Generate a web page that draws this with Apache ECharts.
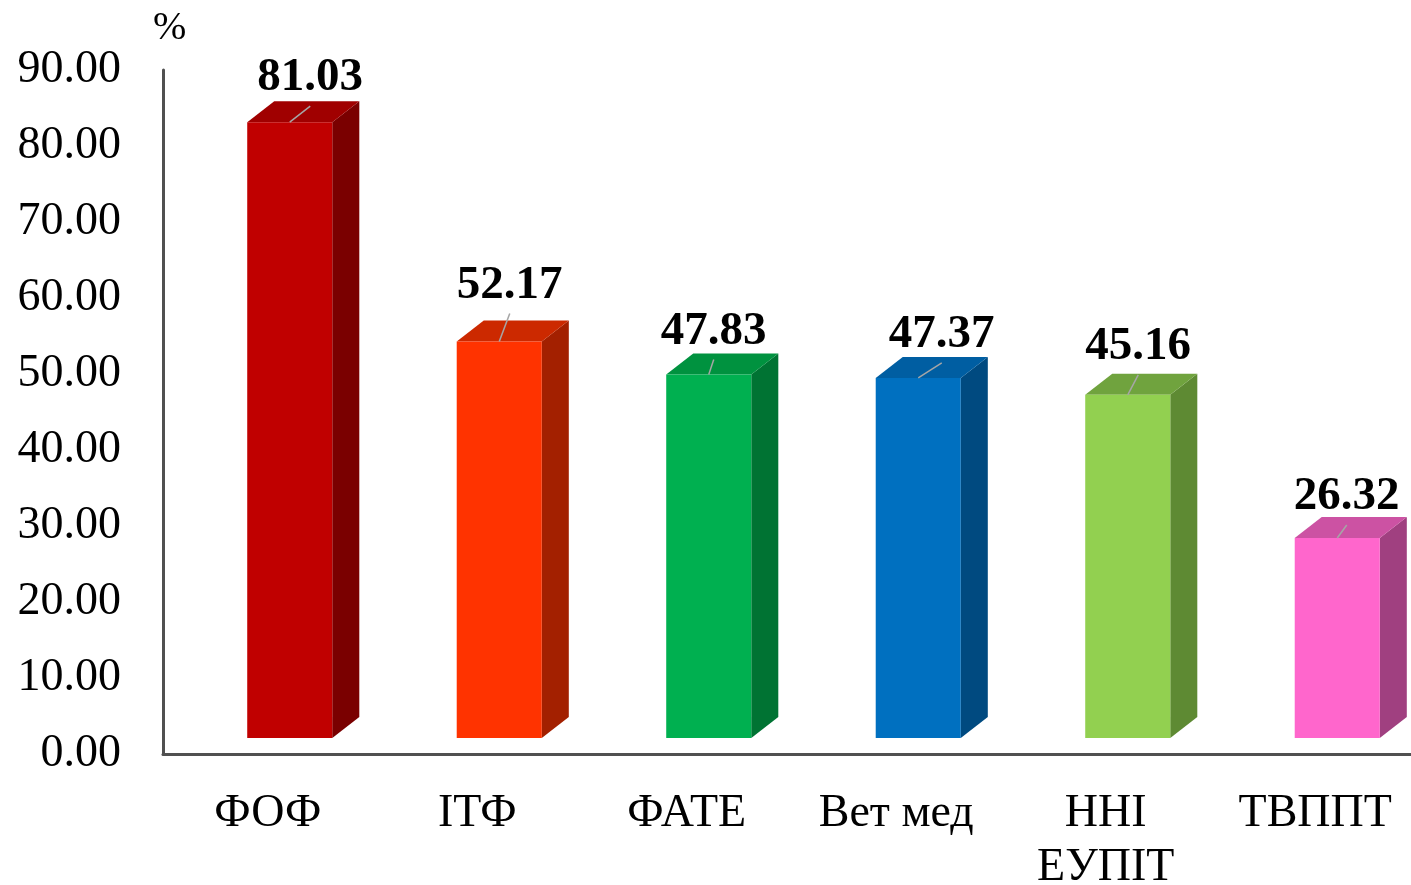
<!DOCTYPE html>
<html><head><meta charset="utf-8">
<script src="https://cdn.jsdelivr.net/npm/echarts@6/dist/echarts.min.js"></script>
<style>html,body{margin:0;padding:0;background:#fff;overflow:hidden}#c{width:1411px;height:885px}</style>
</head><body><div id="c"></div>
<script>
// ---- data ----
const categories = ['ФОФ', 'ІТФ', 'ФАТЕ', 'Вет мед', 'ННІ\nЕУПІТ', 'ТВППТ'];
const values = [81.03, 52.17, 47.83, 47.37, 45.16, 26.32];
const yMin = 0, yMax = 90, yStep = 10;
const unitLabel = '%';

// ---- styles ----
const frontColors = ['#C00000', '#FF3300', '#00B050', '#0070C0', '#92D050', '#FF66CC'];
const topColors   = ['#A00000', '#CC2900', '#00923F', '#005EA2', '#70A33E', '#CC52A3'];
const sideColors  = ['#7A0000', '#A32000', '#007333', '#004A80', '#5E8A33', '#A04080'];
const labelNudge  = [[20.5, -44], [10.5, -56], [5, -43], [23.5, -43], [10.5, -48], [9.5, -41]];
const FONT = '"Liberation Serif", "Times New Roman", serif';

const chart = echarts.init(document.getElementById('c'), null, { renderer: 'canvas' });

function renderItem(params, api) {
  const i = api.value(0);
  const v = api.value(1);
  const band = api.size([1, 0])[0];
  const base = api.coord([i, 0]);
  const topPt = api.coord([i, v]);
  const lift = 16;               // front face sits above the floor line
  const dx = band * 0.129, dy = -21;   // depth offset
  const w = band * 0.406;
  const x0 = base[0] - band * 0.098;
  const x1 = x0 + w;
  const yb = base[1] - lift;
  const yt = topPt[1] - lift;
  const cx = (x0 + x1) / 2;
  const lx = cx + labelNudge[i][0];
  const ly = yt + labelNudge[i][1];
  return {
    type: 'group',
    children: [
      { type: 'polygon', shape: { points: [[x1, yb], [x1 + dx, yb + dy], [x1 + dx, yt + dy], [x1, yt]] },
        style: { fill: sideColors[i] } },
      { type: 'polygon', shape: { points: [[x0, yt], [x0 + dx, yt + dy], [x1 + dx, yt + dy], [x1, yt]] },
        style: { fill: topColors[i] } },
      { type: 'rect', shape: { x: x0, y: yt, width: w, height: yb - yt },
        style: { fill: frontColors[i] } },
      { type: 'line', shape: { x1: cx, y1: yt, x2: lx, y2: ly + 28 },
        style: { stroke: '#A6A6A6', lineWidth: 1.5 } },
      { type: 'text', x: lx, y: ly,
        style: { text: v.toFixed(2), fill: '#000', font: 'bold 47px ' + FONT, align: 'center', verticalAlign: 'middle' } }
    ]
  };
}

chart.setOption({
  animation: false,
  backgroundColor: '#fff',
  grid: { left: 163, top: 70, width: 1257, height: 684, containLabel: false, outerBoundsMode: 'none' },
  graphic: [{ type: 'text', left: 153, top: 8, style: { text: unitLabel, fill: '#000', font: '40px ' + FONT } }],
  xAxis: {
    type: 'category', data: categories, boundaryGap: true,
    axisLine: { show: true, lineStyle: { color: '#505050', width: 3 } },
    axisTick: { show: false },
    axisLabel: { color: '#000', fontFamily: FONT, fontSize: 46, lineHeight: 54, margin: 33, interval: 0 }
  },
  yAxis: {
    type: 'value', min: yMin, max: yMax, interval: yStep,
    axisLine: { show: true, lineStyle: { color: '#505050', width: 3 } },
    axisTick: { show: false },
    splitLine: { show: false },
    axisLabel: { color: '#000', fontFamily: FONT, fontSize: 46, margin: 42, padding: [6, 0, 0, 0], formatter: v => v.toFixed(2) }
  },
  series: [{
    type: 'custom',
    renderItem: renderItem,
    data: values.map((v, i) => [i, v]),
    clip: false
  }]
});
</script>
</body></html>
